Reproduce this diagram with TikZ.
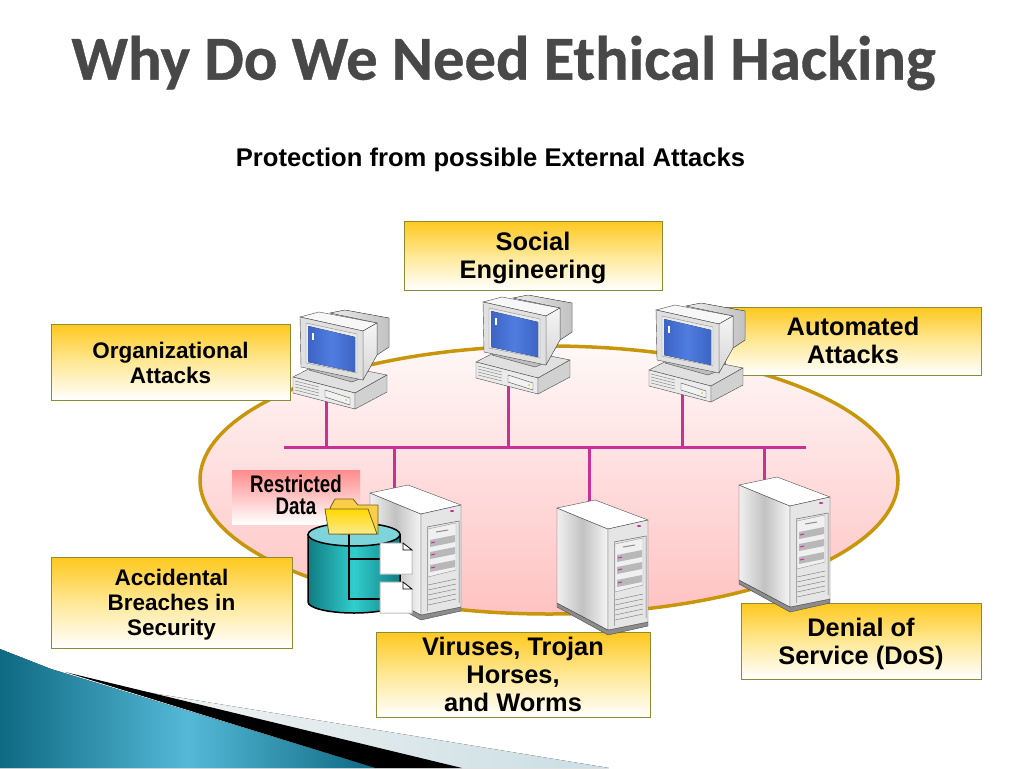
\documentclass[tikz,border=0pt]{standalone}
\usepackage{fontspec}
\setmainfont{Liberation Sans}
\newfontfamily\titlefont[BoldFeatures={FakeBold=0.6}]{Carlito}
\newfontfamily\narrowfont[FakeStretch=0.78]{Liberation Sans}
\definecolor{goldline}{RGB}{200,150,10}
\definecolor{boxline}{RGB}{140,140,50}
\definecolor{boxtop}{RGB}{255,200,30}
\definecolor{boxmid}{RGB}{255,232,150}
\definecolor{netpink}{RGB}{200,50,150}
\definecolor{titlegray}{RGB}{72,72,72}
\definecolor{tealdark}{RGB}{15,125,130}
\definecolor{tealmid}{RGB}{50,205,205}
\definecolor{tealtop}{RGB}{125,212,218}
\definecolor{seadark}{RGB}{14,105,130}
\definecolor{sealight}{RGB}{85,185,215}
\definecolor{screenblue}{RGB}{80,125,225}
\definecolor{screendark}{RGB}{60,100,195}
\definecolor{foldertop}{RGB}{250,225,90}
\definecolor{folderline}{RGB}{110,100,20}
\tikzset{
  attackbox/.style={draw=boxline,line width=1pt,top color=boxtop,bottom color=white,middle color=boxmid,inner sep=0pt},
  bigtext/.style={align=center,inner sep=0pt,font=\fontsize{25.4}{28}\selectfont\bfseries},
  smalltext/.style={align=center,inner sep=0pt,font=\fontsize{22.5}{25}\selectfont\bfseries},
  narrowtext/.style={align=center,inner sep=0pt,font=\fontsize{24}{22}\selectfont\narrowfont\bfseries},
  netline/.style={draw=netpink,line width=3pt},
  hw/.style={draw=black!70,line width=0.4pt},
  computer/.pic={
    \filldraw[hw,fill=black!12] (1,67) -- (30,52) -- (95,65) -- (63,83) -- cycle;
    \filldraw[hw,fill=black!8] (1,67) -- (63,83) -- (63,99) -- (1,83) -- cycle;
    \filldraw[hw,fill=black!18] (63,83) -- (95,65) -- (95,82) -- (63,99) -- cycle;
    \foreach \i in {0,3,6,9} \draw[black!50,line width=0.4pt] (3,71+\i) -- (27,77+\i);
    \filldraw[hw,fill=black!5] (33,80) -- (58,88) -- (58,95) -- (33,87) -- cycle;
    \fill[yellow!80!black] (54,90) circle (1);
    \filldraw[hw,fill=black!25] (17,60) -- (60,72) -- (70,68) -- (25,55) -- cycle;
    \filldraw[hw,left color=black!8,right color=black!24] (38,3) -- (53,0) -- (97,8) -- (97,37) -- (85,45) -- (85,13) -- cycle;
    \filldraw[hw,fill=black!3] (8,7) -- (27,2) -- (85,13) -- (71,21) -- cycle;
    \filldraw[hw,top color=black!4,bottom color=black!16] (71,21) -- (85,13) -- (85,45) -- (71,70) -- cycle;
    \filldraw[hw,fill=black!12] (8,7) -- (71,21) -- (71,70) -- (9,57) -- cycle;
    \filldraw[draw=black!45,fill=white!92!black] (14,13) -- (65,24) -- (65,63) -- (14,53) -- cycle;
    \fill[left color=screendark,right color=screendark,middle color=screenblue] (16,16) -- (63,27) -- (63,62) -- (16,52) -- cycle;
    \fill[white] (20,23) rectangle (22,30);
  },
  server/.pic={
    \filldraw[hw,fill=black!45] (0,103) -- (51,130) -- (91,122) -- (91,126) -- (51,135) -- (0,107) -- cycle;
    \filldraw[hw,left color=black!6,right color=black!4,middle color=black!24] (0,8) -- (51,29) -- (51,130) -- (0,103) -- cycle;
    \filldraw[hw,fill=white] (0,8) -- (38,0) -- (91,20) -- (51,29) -- cycle;
    \filldraw[hw,fill=black!10] (51,29) -- (91,20) -- (91,122) -- (51,130) -- cycle;
    \draw[black!60,line width=0.5pt] (57,42) -- (89,36) -- (89,118);
    \draw[black!35,line width=0.5pt] (57,42) -- (57,126);
    \filldraw[draw=black!40,line width=0.4pt,fill=black!6] (58,44) -- (86,38) -- (86,85) -- (58,92) -- cycle;
    \draw[black!45,line width=1pt] (66,47) -- (78,45);
    \foreach \i in {58,70,83} {
      \fill[black!28] (60,\i-3) -- (85,\i-8) -- (85,\i-1) -- (60,\i+4) -- cycle;
      \draw[netpink,line width=1pt] (61,\i) -- (65,\i-1);
    }
    \foreach \i in {100,105,110,115,120} \draw[black!55,line width=0.4pt] (58,\i) -- (86,\i-6);
    \fill[netpink] (82,26) ellipse (2 and 1);
  }
}
\begin{document}
\begin{tikzpicture}[x=1pt,y=-1pt]
  \useasboundingbox (0,0) rectangle (1024,768);

  % footer wedge
  \fill[left color=black!4,right color=seadark!22] (115,687) -- (609,768) -- (375,768) -- cycle;
  \fill[black] (65,672) -- (462,768) -- (375,768) -- cycle;
  \fill[left color=seadark,right color=seadark,middle color=sealight] (0,649) -- (51,669) -- (375,768) -- (0,768) -- cycle;

  % headings
  \node[text=titlegray,font=\fontsize{62.6}{66}\selectfont\titlefont\bfseries] (title) at (503.5,63) {Why Do We Need Ethical Hacking};
  \node[font=\fontsize{25.6}{28}\selectfont\bfseries] (subtitle) at (490.5,160) {Protection from possible External Attacks};

  % network area
  \filldraw[draw=goldline,line width=3.5pt,top color=red!3,bottom color=red!24] (549,480) ellipse (349 and 134);

  \node[attackbox,minimum width=258pt,minimum height=69pt,label={[bigtext,yshift=-2pt]center:{Social\\Engineering}}] (social) at (533,255.5) {};
  \node[attackbox,minimum width=256pt,minimum height=68pt,label={[bigtext,yshift=1pt]center:{Automated\\Attacks}}] (automated) at (853,341) {};
  \node[attackbox,minimum width=239pt,minimum height=76pt,label={[smalltext,yshift=-1pt]center:{Organizational\\Attacks}}] (organizational) at (170.5,362) {};
  \node[attackbox,minimum width=241pt,minimum height=91pt,label={[smalltext,yshift=-2pt]center:{Accidental\\Breaches in\\Security}}] (accidental) at (171.5,602.5) {};
  \node[attackbox,minimum width=274pt,minimum height=85pt,label={[bigtext]center:{Viruses, Trojan\\Horses,\\and Worms}}] (viruses) at (513,674.5) {};
  \node[attackbox,minimum width=240pt,minimum height=76pt,label={[bigtext,yshift=-3pt]center:{Denial of\\Service (DoS)}}] (denial) at (861,641) {};

  \node[top color=red!45,bottom color=white,minimum width=128pt,minimum height=54pt,inner sep=0pt,
    label={[narrowtext,yshift=2pt]center:{Restricted\\Data}}] (restricted) at (296,497) {};

  % bus
  \coordinate (busleft) at (284,447);
  \coordinate (busright) at (806,447);
  \coordinate (pcAbase) at (326,400);
  \coordinate (pcBbase) at (508,385);
  \coordinate (pcCbase) at (682,393);
  \coordinate (srvAtop) at (394,495);
  \coordinate (srvBtop) at (589,505);
  \coordinate (srvCtop) at (764,485);
  \begin{scope}[every path/.style={netline}]
    \draw (busleft) -- (busright);
    \draw (pcAbase) -- (pcAbase |- busleft);
    \draw (pcBbase) -- (pcBbase |- busleft);
    \draw (pcCbase) -- (pcCbase |- busleft);
    \draw (srvAtop) -- (srvAtop |- busleft);
    \draw (srvBtop) -- (srvBtop |- busleft);
    \draw (srvCtop) -- (srvCtop |- busleft);
  \end{scope}

  \pic (pcA) at (292,310) {computer};
  \pic (pcB) at (475,295) {computer};
  \pic (pcC) at (648,303) {computer};

  \pic (srvA) at (370,485) {server};
  \pic (srvB) at (557,500) {server};
  \pic (srvC) at (739,477) {server};

  % database
  \filldraw[draw=black,line width=1.5pt,left color=tealdark,right color=tealdark,middle color=tealmid]
    (308,534.5) -- (308,602) arc[start angle=180,end angle=360,x radius=46,y radius=-11] -- (400,534.5) -- cycle;
  \filldraw[draw=black,line width=1.5pt,fill=tealtop] (354,534.5) ellipse (46 and 11.5);
  \draw[black,line width=1.5pt] (380,559) -- (349,559) (349,534) -- (349,599) -- (380,599);
  \filldraw[draw=black!25,line width=1pt,fill=white] (380,543) -- (403,543) -- (412,550) -- (412,574) -- (380,574) -- cycle;
  \filldraw[draw=black!25,line width=1pt,fill=white] (380,582) -- (403,582) -- (412,589) -- (412,613) -- (380,613) -- cycle;
  \draw[black,line width=0.7pt] (403,543) -- (412,550) -- (403,550) -- cycle (403,582) -- (412,589) -- (403,589) -- cycle;

  % folder
  \filldraw[draw=folderline,line width=0.8pt,fill=foldertop!80!orange] (330,508) -- (335,499) -- (353,499) -- (358,505) -- (378,505) -- (378,534) -- (340,534) -- cycle;
  \filldraw[draw=folderline,line width=0.8pt,top color=yellow!70!orange,bottom color=foldertop!70!white] (325,509) -- (368,509) -- (377,534) -- (329,534) -- cycle;
\end{tikzpicture}
\end{document}
